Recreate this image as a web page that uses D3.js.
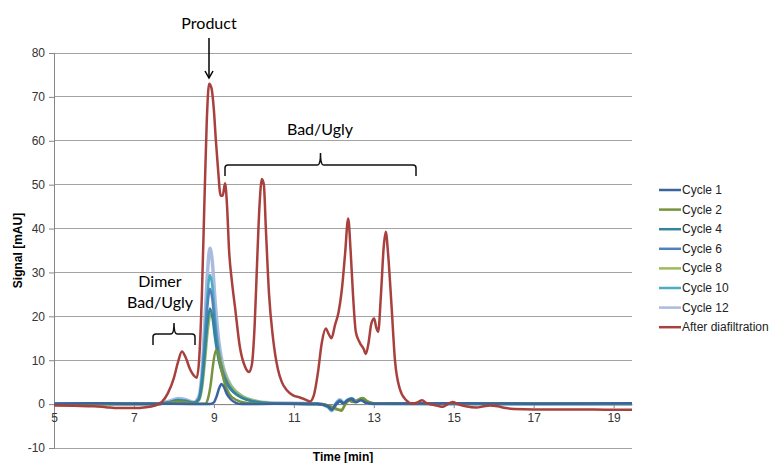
<!DOCTYPE html>
<html>
<head>
<meta charset="utf-8">
<script src="https://cdn.jsdelivr.net/npm/d3@7"></script>
<style>
  body { margin: 0; background: #fff; }
  svg { display: block; }
</style>
</head>
<body>
<div id="container"></div>
<script>
// series data, [time (min), signal (mAU)]
var cycle1 = [[5,0.1],[6,0.2],[7,0.1],[8,0.1],[8.9,0],[9.0,0.4],[9.07,1.8],[9.13,3.6],[9.19,4.6],[9.25,3.9],[9.32,2.4],[9.42,1.1],[9.55,0.3],[9.7,0],[10.5,0.1],[11.6,0],[11.85,-0.4],[11.95,-1.2],[12.05,-0.2],[12.15,0.6],[12.25,0.2],[12.35,0.9],[12.45,1.1],[12.55,0.4],[12.68,0.9],[12.8,0.3],[13,0.1],[15,0.2],[17,0.1],[19.46,0.2]];
var cycle2 = [[5,0],[7.6,0],[7.9,0.3],[8.1,0.6],[8.3,0.4],[8.6,0.1],[8.78,0.1],[8.85,1.2],[8.92,4.5],[8.98,9],[9.05,12.3],[9.11,11.4],[9.18,8.2],[9.27,4.8],[9.38,2.4],[9.55,1],[9.8,0.3],[10.2,0.1],[11.7,0],[11.95,-0.6],[12.1,-1.2],[12.19,-1.5],[12.28,-0.2],[12.38,0.8],[12.48,0.5],[12.6,0.9],[12.72,1.4],[12.85,0.6],[13,0.2],[19.46,0.1]];
var cycle4 = [[5,0],[7.6,0],[7.9,0.4],[8.1,0.8],[8.3,0.6],[8.5,0.3],[8.62,1],[8.7,4.5],[8.77,11],[8.84,18.5],[8.9,21.8],[8.96,20],[9.03,15],[9.12,10],[9.22,6.8],[9.35,4.2],[9.5,2.6],[9.7,1.4],[10,0.6],[10.4,0.2],[11.6,0],[11.85,-0.6],[11.95,-1.3],[12.05,0],[12.15,0.7],[12.25,0.1],[12.35,0.8],[12.45,1.2],[12.55,0.5],[12.68,1],[12.8,0.4],[13,0.1],[19.46,0]];
var cycle6 = [[5,0.1],[7.6,0.1],[7.9,0.5],[8.1,0.9],[8.3,0.7],[8.5,0.3],[8.62,1.2],[8.7,5.5],[8.77,13.5],[8.84,22.5],[8.9,26.3],[8.96,24],[9.03,17.5],[9.12,11.5],[9.22,7.5],[9.35,4.6],[9.5,2.8],[9.7,1.5],[10,0.6],[10.4,0.2],[11.6,0.1],[11.85,-0.5],[11.95,-1.2],[12.05,0],[12.15,0.8],[12.25,0.2],[12.35,0.9],[12.45,1.3],[12.55,0.6],[12.68,1.1],[12.8,0.4],[13,0.1],[19.46,0.1]];
var cycle8 = [[5,0],[7.6,0],[7.9,0.4],[8.1,0.7],[8.3,0.5],[8.5,0.2],[8.63,0.9],[8.71,4],[8.78,10],[8.85,17],[8.92,20.5],[8.98,19.5],[9.05,15.5],[9.14,11],[9.25,7.5],[9.38,4.8],[9.55,2.9],[9.75,1.6],[10.05,0.7],[10.5,0.2],[11.7,0],[11.95,-0.8],[12.1,-1.3],[12.2,-1.2],[12.3,0.2],[12.4,0.9],[12.5,0.5],[12.62,1],[12.74,1.3],[12.85,0.5],[13,0.2],[19.46,0.1]];
var cycle10 = [[5,0],[7.6,0],[7.9,0.5],[8.1,1],[8.3,0.8],[8.5,0.3],[8.62,1.3],[8.7,6],[8.77,15],[8.84,25],[8.9,29.4],[8.96,27],[9.03,19.5],[9.12,12.5],[9.22,8],[9.35,5],[9.5,3],[9.7,1.6],[10,0.7],[10.4,0.2],[11.6,0],[11.85,-0.6],[11.95,-1.4],[12.05,0.1],[12.15,0.9],[12.25,0.2],[12.35,1],[12.45,1.3],[12.55,0.6],[12.68,1.2],[12.8,0.4],[13,0.1],[19.46,0]];
var cycle12 = [[5,0.1],[7.6,0.1],[7.9,0.7],[8.1,1.3],[8.3,1],[8.5,0.4],[8.62,1.6],[8.7,7],[8.77,18],[8.84,30],[8.9,35.5],[8.96,32.5],[9.03,23.5],[9.12,14.5],[9.22,9],[9.35,5.5],[9.5,3.3],[9.7,1.8],[10,0.8],[10.4,0.3],[11.6,0.1],[11.85,-0.6],[11.95,-1.5],[12.05,0.1],[12.15,1],[12.25,0.3],[12.35,1],[12.45,1.3],[12.55,0.6],[12.68,1.2],[12.8,0.4],[13,0.1],[19.46,0.1]];
var afterDia = [[5,-0.3],[5.5,-0.4],[6,-0.5],[6.3,-0.7],[6.6,-0.9],[7,-0.9],[7.3,-0.7],[7.5,-0.4],[7.7,0.5],[7.85,2.5],[8.0,6],[8.1,9.5],[8.2,12],[8.3,10.5],[8.4,8],[8.5,6.5],[8.57,6],[8.63,10],[8.7,25],[8.76,45],[8.82,64],[8.88,73],[8.94,72],[9.0,67],[9.05,60],[9.1,54],[9.17,47.5],[9.22,47.5],[9.28,50.3],[9.33,45],[9.38,35],[9.45,28],[9.53,22],[9.65,13],[9.78,8.5],[9.88,7.3],[9.95,9],[10.02,18],[10.08,32],[10.14,45],[10.2,51.3],[10.25,50],[10.3,40],[10.38,25],[10.48,15],[10.6,8],[10.7,5],[10.82,3.2],[10.98,2],[11.15,1.5],[11.32,0.9],[11.4,0.6],[11.5,2],[11.6,7],[11.7,14],[11.8,17.2],[11.87,16],[11.94,15],[12.03,18],[12.12,21],[12.2,26],[12.28,34],[12.36,42.3],[12.42,35],[12.48,25],[12.55,16.5],[12.65,14],[12.75,12.5],[12.8,11.4],[12.87,14],[12.94,18.4],[13.01,19.5],[13.06,17.5],[13.11,16.5],[13.18,25],[13.25,36],[13.3,39.3],[13.36,34],[13.44,23],[13.53,10],[13.65,3.5],[13.8,1],[13.98,0.1],[14.1,0.4],[14.21,0.9],[14.32,0.2],[14.45,-0.1],[14.6,-0.4],[14.73,-0.6],[14.85,0],[14.97,0.5],[15.1,0],[15.3,-0.5],[15.57,-0.8],[15.75,-0.5],[15.9,-0.3],[16.1,-0.5],[16.3,-0.9],[16.5,-1.1],[17,-1.2],[18,-1.2],[19,-1.3],[19.46,-1.3]];

var seriesNames = ["Cycle 1","Cycle 2","Cycle 4","Cycle 6","Cycle 8","Cycle 10","Cycle 12","After diafiltration"];
var seriesData = [cycle1, cycle2, cycle4, cycle6, cycle8, cycle10, cycle12, afterDia];
var seriesColors = ["#3A64A0","#77933C","#31859C","#4F81BD","#9BBB59","#4BACC6","#A9BCDE","#A8403D"];
var seriesWidths = [2.5, 2.5, 2.5, 2.5, 2.5, 2.5, 3.5, 2.5];

var xTicks = [5, 7, 9, 11, 13, 15, 17, 19];
var yTicks = [-10, 0, 10, 20, 30, 40, 50, 60, 70, 80];

var W = 769, H = 463,
    margin = {top: 53, left: 54, right: 137, bottom: 15},
    width = W - margin.left - margin.right,
    height = H - margin.top - margin.bottom;

var svg = d3.select("#container").append("svg").attr("width", W).attr("height", H);
var g = svg.append("g").attr("transform", "translate(" + margin.left + "," + margin.top + ")");

var xScale = d3.scaleLinear().domain([5, 19.46]).range([0, width]);
var yScale = d3.scaleLinear().domain([-10, 80]).range([height, 0]);

// horizontal gridlines
g.append("g")
  .selectAll("line")
  .data(yTicks)
  .join("line")
  .attr("x1", 0).attr("x2", width)
  .attr("y1", d => yScale(d)).attr("y2", d => yScale(d))
  .attr("stroke", "#a3a3a3")
  .attr("stroke-width", 1)
  .attr("shape-rendering", "crispEdges");

// y axis (plain hyphen for the negative label, like the original)
var yAxis = d3.axisLeft(yScale).tickValues(yTicks).tickSize(5).tickPadding(4)
  .tickFormat(d => String(d));
var gy = g.append("g").call(yAxis);
gy.select(".domain").attr("stroke", "#868686");
gy.selectAll(".tick line").attr("stroke", "#868686");
gy.selectAll("text")
  .style("font-family", "'Liberation Sans', Arial, sans-serif")
  .style("font-size", "12px")
  .attr("fill", "#333");

// x axis sits on the zero line
var xAxis = d3.axisBottom(xScale).tickValues(xTicks).tickSize(4).tickPadding(5).tickSizeOuter(0);
var gx = g.append("g").attr("transform", "translate(0," + yScale(0) + ")").call(xAxis);
gx.select(".domain").attr("stroke", "#868686");
gx.selectAll(".tick line").attr("stroke", "#868686");
gx.selectAll("text")
  .style("font-family", "'Liberation Sans', Arial, sans-serif")
  .style("font-size", "12px")
  .attr("fill", "#333");

// lines, Cycle 12 at the back, After diafiltration on top
var line = d3.line()
  .x(d => xScale(d[0]))
  .y(d => yScale(d[1]))
  .curve(d3.curveMonotoneX);

var drawOrder = [6, 5, 4, 3, 2, 1, 0, 7];
drawOrder.forEach(function(i) {
  g.append("path")
    .datum(seriesData[i])
    .attr("d", line)
    .attr("fill", "none")
    .attr("stroke", seriesColors[i])
    .attr("stroke-width", seriesWidths[i])
    .attr("stroke-linejoin", "round");
});

// axis titles
svg.append("text")
  .attr("x", margin.left + width / 2).attr("y", 461)
  .attr("text-anchor", "middle")
  .style("font-family", "'Liberation Sans', Arial, sans-serif")
  .style("font-size", "12px").style("font-weight", "bold")
  .text("Time [min]");

svg.append("text")
  .attr("transform", "translate(22," + (margin.top + height / 2) + ") rotate(-90)")
  .attr("text-anchor", "middle")
  .style("font-family", "'Liberation Sans', Arial, sans-serif")
  .style("font-size", "12px").style("font-weight", "bold")
  .text("Signal [mAU]");

// legend
var legend = svg.append("g").attr("transform", "translate(659,190)");
var items = legend.selectAll("g")
  .data(seriesNames)
  .join("g")
  .attr("transform", (d, i) => "translate(0," + (i * 19.6) + ")");
items.append("line")
  .attr("x1", 0).attr("x2", 22).attr("y1", 0).attr("y2", 0)
  .attr("stroke", (d, i) => seriesColors[i])
  .attr("stroke-width", 2.5);
items.append("text")
  .attr("x", 23).attr("y", 4)
  .style("font-family", "'Liberation Sans', Arial, sans-serif")
  .style("font-size", "12px")
  .attr("fill", "#222")
  .text(d => d);

// annotations
var annoFont = "Lato, 'Noto Sans', sans-serif";
function note(txt, x, y) {
  svg.append("text")
    .attr("x", x).attr("y", y)
    .attr("text-anchor", "middle")
    .style("font-family", annoFont)
    .style("font-size", "16px")
    .attr("fill", "#000")
    .text(txt);
}
note("Product", 209, 29);
note("Bad/Ugly", 320, 135);
note("Dimer", 160, 287);
note("Bad/Ugly", 160, 308);

// arrow to the product peak
svg.append("line")
  .attr("x1", 209).attr("x2", 209).attr("y1", 38).attr("y2", 78)
  .attr("stroke", "#000").attr("stroke-width", 1.5);
svg.append("path")
  .attr("d", "M205,71 L209,78 L213,71")
  .attr("fill", "none").attr("stroke", "#000").attr("stroke-width", 1.5);

// curly braces
function brace(x0, x1, y, tip, drop) {
  var xm = (x0 + x1) / 2;
  var p = "M" + x0 + "," + (y + drop) +
    " L" + x0 + "," + (y + 3) +
    " Q" + x0 + "," + y + " " + (x0 + 3) + "," + y +
    " L" + (xm - 3) + "," + y +
    " Q" + xm + "," + y + " " + xm + "," + (y - tip) +
    " Q" + xm + "," + y + " " + (xm + 3) + "," + y +
    " L" + (x1 - 3) + "," + y +
    " Q" + x1 + "," + y + " " + x1 + "," + (y + 3) +
    " L" + x1 + "," + (y + drop);
  svg.append("path").attr("d", p)
    .attr("fill", "none").attr("stroke", "#111").attr("stroke-width", 1.5);
}
brace(225, 416, 165, 12, 11);
brace(153, 195, 334, 11, 11);
</script>
</body>
</html>
